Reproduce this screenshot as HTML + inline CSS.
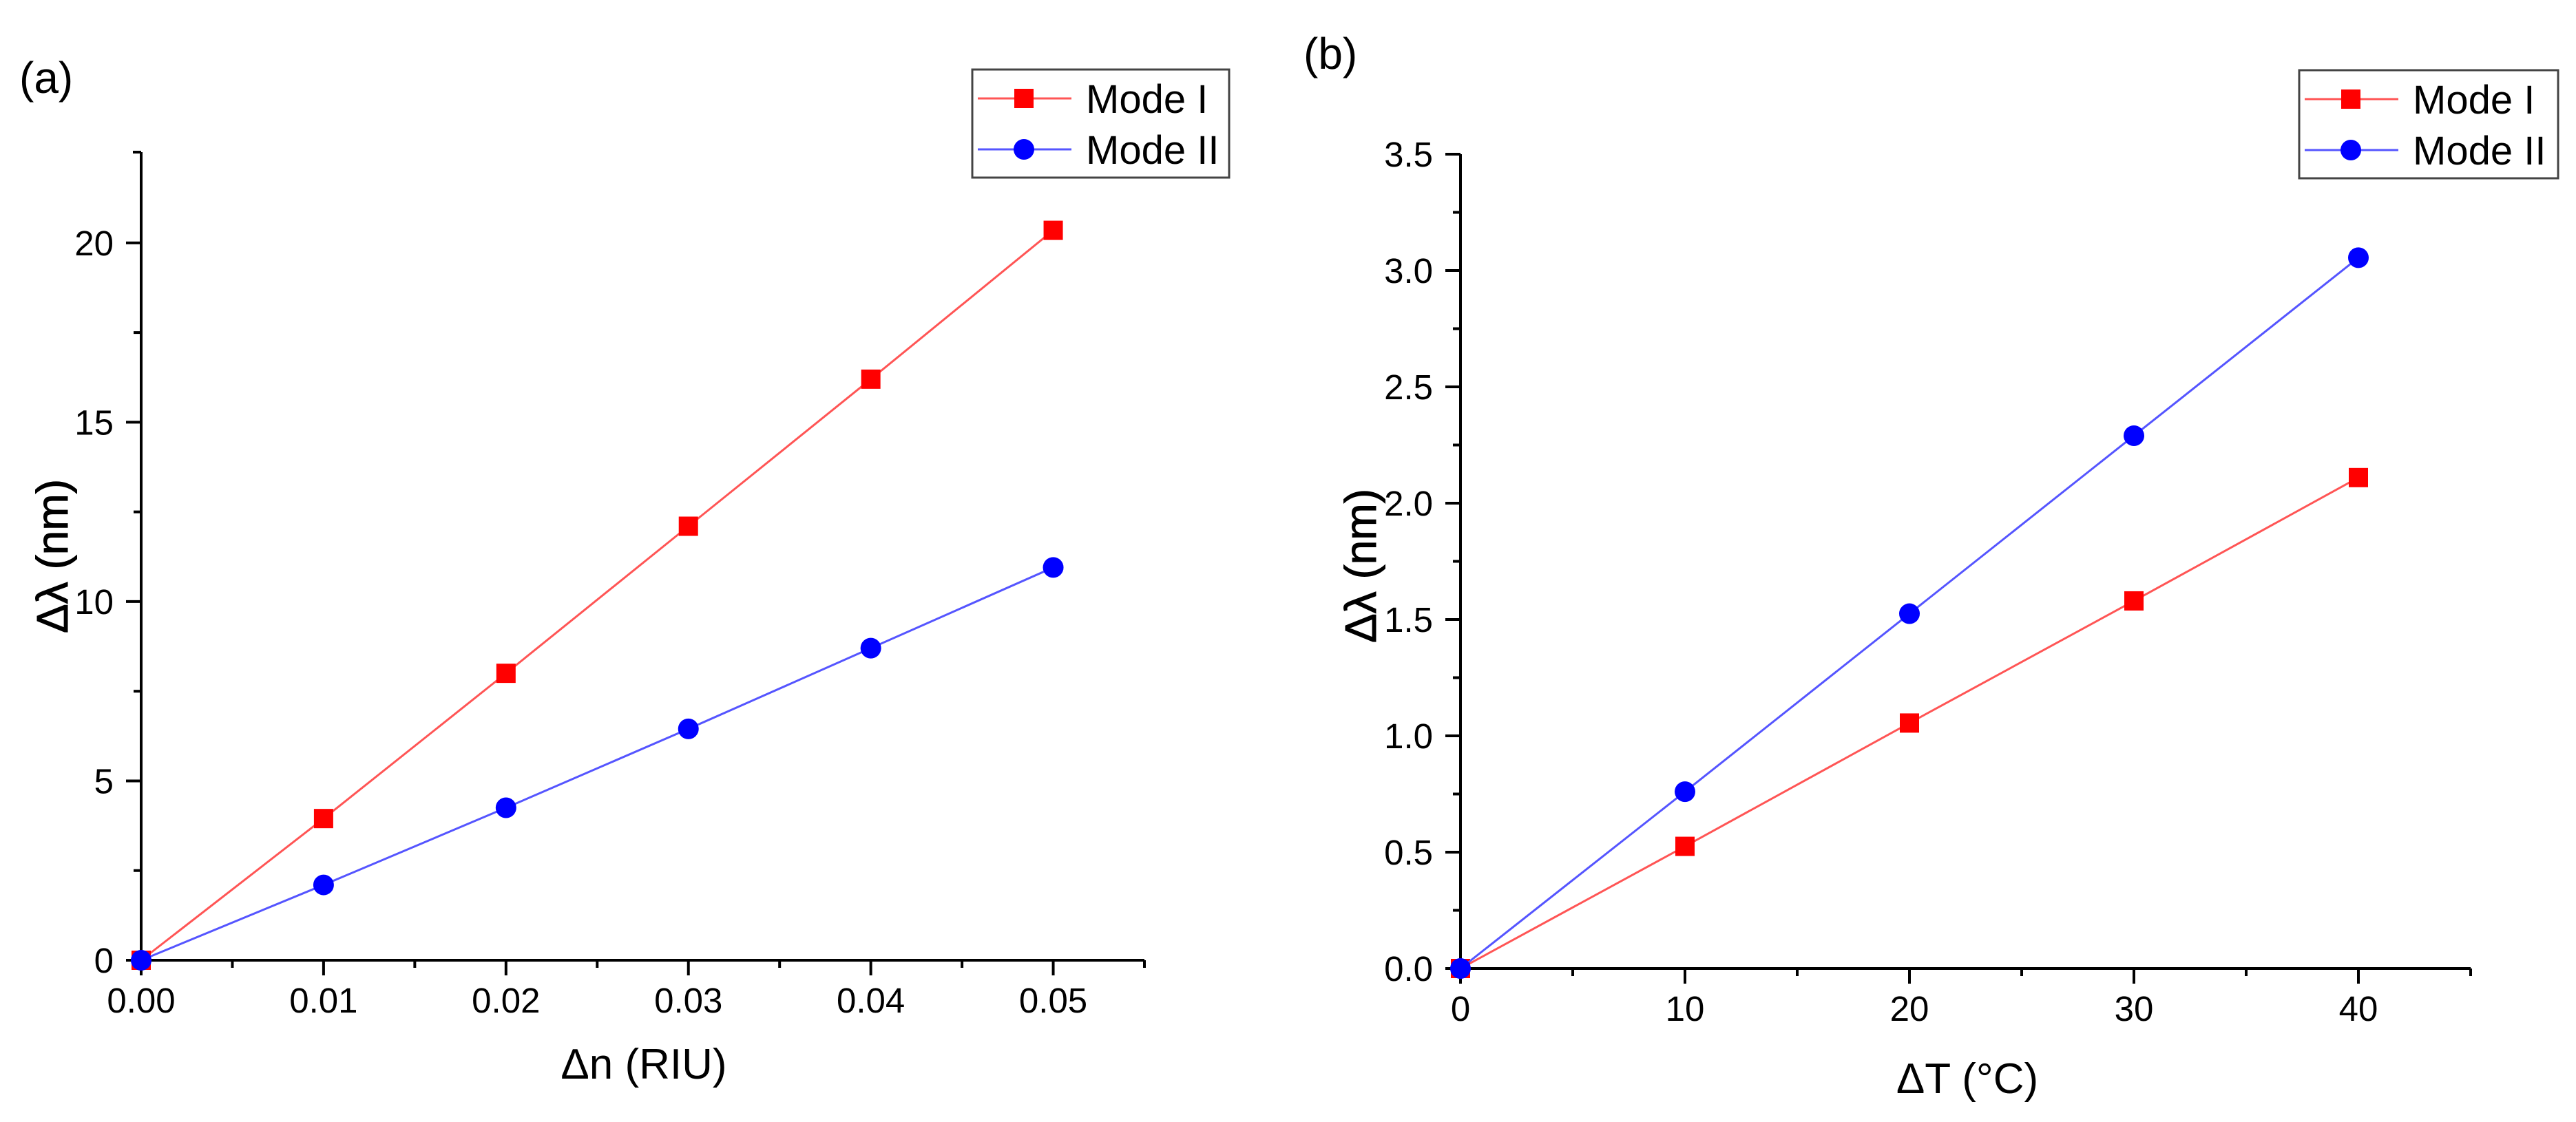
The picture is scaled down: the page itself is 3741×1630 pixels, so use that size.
<!DOCTYPE html>
<html><head><meta charset="utf-8"><style>
html,body{margin:0;padding:0;background:#fff;}
svg{display:block;font-family:"Liberation Sans",sans-serif;}
</style></head><body>
<svg id="chart" width="3741" height="1630" viewBox="0 0 3741 1630" xmlns="http://www.w3.org/2000/svg"></svg>
<script>
// Panel (a) data
const aX = [0, 0.01, 0.02, 0.03, 0.04, 0.05];
const aMode1 = [0, 3.95, 8.0, 12.1, 16.2, 20.35];
const aMode2 = [0, 2.1, 4.25, 6.45, 8.7, 10.95];
const aXTicks = [0, 0.01, 0.02, 0.03, 0.04, 0.05];
const aXTickLabels = ["0.00", "0.01", "0.02", "0.03", "0.04", "0.05"];
const aYTicks = [0, 5, 10, 15, 20];
const aYTickLabels = ["0", "5", "10", "15", "20"];
// Panel (b) data
const bX = [0, 10, 20, 30, 40];
const bMode1 = [0, 0.525, 1.055, 1.58, 2.11];
const bMode2 = [0, 0.76, 1.525, 2.29, 3.055];
const bXTicks = [0, 10, 20, 30, 40];
const bXTickLabels = ["0", "10", "20", "30", "40"];
const bYTicks = [0, 0.5, 1.0, 1.5, 2.0, 2.5, 3.0, 3.5];
const bYTickLabels = ["0.0", "0.5", "1.0", "1.5", "2.0", "2.5", "3.0", "3.5"];

const NS = "http://www.w3.org/2000/svg";
const svg = document.getElementById("chart");
function mk(tag, attrs, parent) {
  const e = document.createElementNS(NS, tag);
  for (const k in attrs) e.setAttribute(k, attrs[k]);
  (parent || svg).appendChild(e);
  return e;
}

function panel(cfg) {
  const g = mk("g", {});
  
  
  const sx = v => cfg.x0 + (v - cfg.xmin) / (cfg.xmax - cfg.xmin) * (cfg.x1 - cfg.x0);
  const sy = v => cfg.y0 - (v - cfg.ymin) / (cfg.ymax - cfg.ymin) * (cfg.y0 - cfg.y1);
  const ax = mk("line", {x1: cfg.x0 - 2, y1: cfg.y0, x2: cfg.x1, y2: cfg.y0, stroke: "#000", "stroke-width": 4}, g);
  
  
  const ay = mk("line", {x1: cfg.x0, y1: cfg.y1, x2: cfg.x0, y2: cfg.y0 + 22, stroke: "#000", "stroke-width": 4}, g);
  
  
  mk("line", {x1: cfg.x0 - 12, y1: cfg.y1, x2: cfg.x0, y2: cfg.y1, stroke: "#000", "stroke-width": 4}, g);
  mk("line", {x1: cfg.x1, y1: cfg.y0, x2: cfg.x1, y2: cfg.y0 + 11, stroke: "#000", "stroke-width": 4}, g);
  cfg.xTicks.forEach((v, i) => {
    const x = sx(v);
    mk("line", {x1: x, y1: cfg.y0, x2: x, y2: cfg.y0 + 22, stroke: "#000", "stroke-width": 4}, g);
    const t = mk("text", {x: x, y: cfg.y0 + 76, "text-anchor": "middle", "font-size": 51, fill: "#000"}, g);
    t.textContent = cfg.xTickLabels[i];
    
    
    if (i < cfg.xTicks.length - 1) {
      const xm = sx((v + cfg.xTicks[i + 1]) / 2);
      mk("line", {x1: xm, y1: cfg.y0, x2: xm, y2: cfg.y0 + 11, stroke: "#000", "stroke-width": 4}, g);
    }
  });
  cfg.yTicks.forEach((v, i) => {
    const y = sy(v);
    mk("line", {x1: cfg.x0 - 22, y1: y, x2: cfg.x0, y2: y, stroke: "#000", "stroke-width": 4}, g);
    const t = mk("text", {x: cfg.x0 - 40, y: y + 18, "text-anchor": "end", "font-size": 51, fill: "#000"}, g);
    t.textContent = cfg.yTickLabels[i];
    
    
    if (i < cfg.yTicks.length - 1) {
      const ym = sy((v + cfg.yTicks[i + 1]) / 2);
      mk("line", {x1: cfg.x0 - 11, y1: ym, x2: cfg.x0, y2: ym, stroke: "#000", "stroke-width": 4}, g);
    }
  });
  cfg.series.forEach(s => {
    const pts = cfg.xs.map((v, i) => sx(v) + "," + sy(s.values[i])).join(" ");
    const pl = mk("polyline", {points: pts, fill: "none", stroke: s.line, "stroke-width": 3}, g);
    
    
    cfg.xs.forEach((v, i) => {
      const x = sx(v), y = sy(s.values[i]);
      let m;
      if (s.shape === "square") m = mk("rect", {x: x - 14, y: y - 14, width: 28, height: 28, fill: s.color}, g);
      else m = mk("circle", {cx: x, cy: y, r: 15, fill: s.color}, g);
      
      
    });
  });
  const xt = mk("text", {x: cfg.xTitleX, y: cfg.xTitleY, "text-anchor": "middle", "font-size": 62, fill: "#000"}, g);
  xt.textContent = cfg.xTitle;
  
  
  const yt = mk("text", {x: 0, y: 0, "text-anchor": "middle", "font-size": 64, fill: "#000", "stroke": "#000", "stroke-width": 1, transform: `translate(${cfg.yTitleX},${cfg.yTitleY}) rotate(-90)`}, g);
  yt.textContent = "Δλ (nm)";
  
  
  const pl = mk("text", {x: cfg.labelX, y: cfg.labelY, "font-size": 64, fill: "#000"}, g);
  pl.textContent = cfg.label;
  
  
  const lg = mk("g", {}, g);
  
  
  const L = cfg.legend;
  mk("rect", {x: L.x, y: L.y, width: L.w, height: L.h, fill: "#fff", stroke: "#444", "stroke-width": 3}, lg);
  cfg.series.forEach((s, i) => {
    const ey = L.y + 42 + i * 74;
    const e = mk("g", {}, lg);
    
    
    mk("line", {x1: L.x + 8, y1: ey, x2: L.x + 144, y2: ey, stroke: s.line, "stroke-width": 3}, e);
    if (s.shape === "square") mk("rect", {x: L.x + 61, y: ey - 14, width: 28, height: 28, fill: s.color}, e);
    else mk("circle", {cx: L.x + 75, cy: ey, r: 15, fill: s.color}, e);
    const t = mk("text", {x: L.x + 165, y: ey + 21, "font-size": 58, fill: "#000"}, e);
    t.textContent = s.label;
  });
}

panel({
  name: "panel-a", x0: 205, x1: 1662, y0: 1395, y1: 221,
  xmin: 0, xmax: 0.055, ymin: 0, ymax: 22.53,
  xs: aX, xTicks: aXTicks, xTickLabels: aXTickLabels, yTicks: aYTicks, yTickLabels: aYTickLabels,
  series: [
    {name: "mode-i", label: "Mode I", values: aMode1, color: "#ff0000", line: "#ff5555", shape: "square"},
    {name: "mode-ii", label: "Mode II", values: aMode2, color: "#0000ff", line: "#5555ff", shape: "circle"}
  ],
  xTitle: "Δn (RIU)", xTitleX: 935, xTitleY: 1567,
  yTitleX: 98, yTitleY: 808,
  label: "(a)", labelX: 28, labelY: 135,
  legend: {x: 1412, y: 101, w: 373, h: 157}
});
panel({
  name: "panel-b", x0: 2121, x1: 3588, y0: 1407, y1: 224,
  xmin: 0, xmax: 45, ymin: 0, ymax: 3.5,
  xs: bX, xTicks: bXTicks, xTickLabels: bXTickLabels, yTicks: bYTicks, yTickLabels: bYTickLabels,
  series: [
    {name: "mode-i", label: "Mode I", values: bMode1, color: "#ff0000", line: "#ff5555", shape: "square"},
    {name: "mode-ii", label: "Mode II", values: bMode2, color: "#0000ff", line: "#5555ff", shape: "circle"}
  ],
  xTitle: "ΔT (°C)", xTitleX: 2857, xTitleY: 1588,
  yTitleX: 1998, yTitleY: 822,
  label: "(b)", labelX: 1893, labelY: 100,
  legend: {x: 3339, y: 102, w: 376, h: 157}
});
</script>
</body></html>
